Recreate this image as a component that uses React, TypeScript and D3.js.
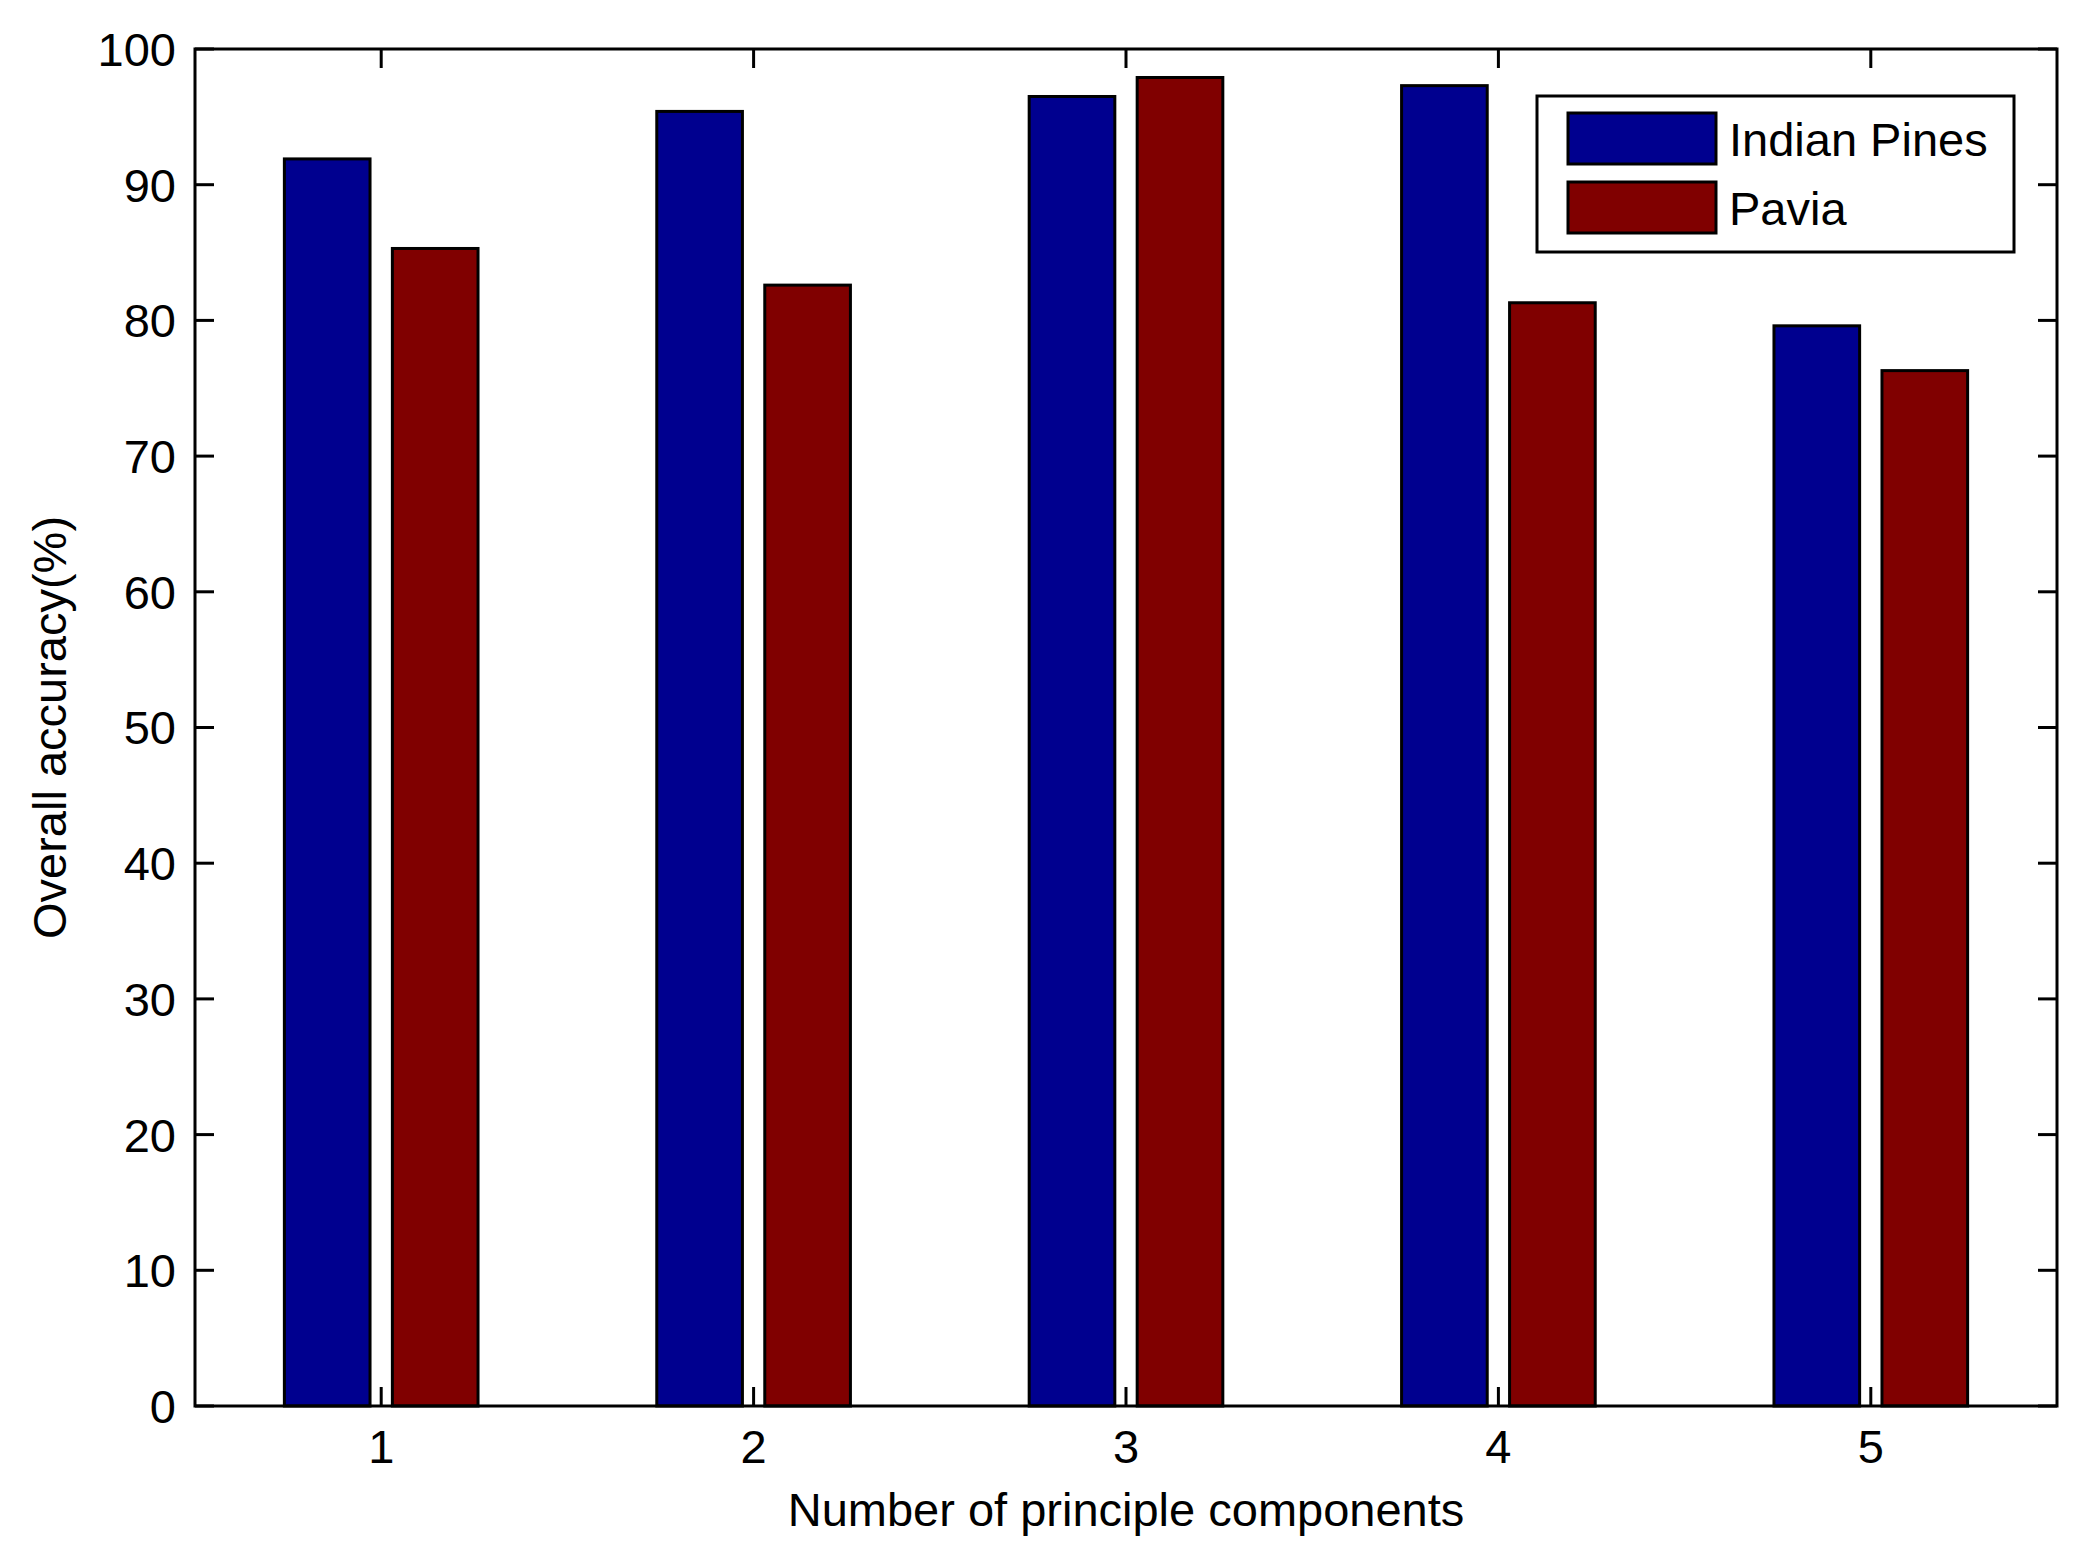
import { useRef, useEffect } from 'react';
import * as d3 from 'd3';

const components = [1, 2, 3, 4, 5];
const indianPines = [91.9, 95.4, 96.5, 97.3, 79.6];
const pavia = [85.3, 82.6, 97.9, 81.3, 76.3];
const seriesNames = ['Indian Pines', 'Pavia'];
const seriesColors = ['#00008f', '#800000'];
const yTicks = [0, 10, 20, 30, 40, 50, 60, 70, 80, 90, 100];

const FONT = '"Liberation Sans", Arial, sans-serif';

export default function App() {
    const svgRef = useRef<SVGSVGElement>(null);

    useEffect(() => {
        if (!svgRef.current) return;
        document.body.style.margin = '0';

        const width = 2078;
        const height = 1556;
        const margin = { top: 49, right: 21, bottom: 150, left: 195 };
        const w = width - margin.left - margin.right;
        const h = height - margin.top - margin.bottom;

        const root = d3.select(svgRef.current);
        root.selectAll('*').remove();
        root.attr('width', width).attr('height', height);

        root.append('rect').attr('width', width).attr('height', height).attr('fill', '#fff');

        const svg = root.append('g').attr('transform', `translate(${margin.left},${margin.top})`);

        const x = d3.scaleLinear().domain([0.5, 5.5]).range([0, w]);
        const y = d3.scaleLinear().domain([0, 100]).range([h, 0]);

        const barW = 0.23;
        const offsets = [-0.145, 0.145];
        const series = [indianPines, pavia];

        // Bars
        series.forEach((vals, s) => {
            svg.selectAll(`.bar-${s}`)
                .data(vals)
                .enter()
                .append('rect')
                .attr('class', `bar-${s}`)
                .attr('x', (_d, i) => x(components[i] + offsets[s] - barW / 2))
                .attr('width', x(barW) - x(0))
                .attr('y', d => y(d))
                .attr('height', d => h - y(d))
                .attr('fill', seriesColors[s])
                .attr('stroke', '#000')
                .attr('stroke-width', 3);
        });

        // Frame
        svg.append('rect')
            .attr('width', w)
            .attr('height', h)
            .attr('fill', 'none')
            .attr('stroke', '#000')
            .attr('stroke-width', 3);

        const tickLen = 19;

        // Y ticks (left + right, inward)
        yTicks.forEach(t => {
            svg.append('line').attr('x1', 0).attr('x2', tickLen).attr('y1', y(t)).attr('y2', y(t))
                .attr('stroke', '#000').attr('stroke-width', 3);
            svg.append('line').attr('x1', w - tickLen).attr('x2', w).attr('y1', y(t)).attr('y2', y(t))
                .attr('stroke', '#000').attr('stroke-width', 3);
            svg.append('text')
                .attr('x', -19)
                .attr('y', y(t))
                .attr('dy', '0.36em')
                .attr('text-anchor', 'end')
                .style('font-family', FONT)
                .style('font-size', '47px')
                .text(t);
        });

        // X ticks (bottom + top, inward)
        components.forEach(c => {
            svg.append('line').attr('x1', x(c)).attr('x2', x(c)).attr('y1', h).attr('y2', h - tickLen)
                .attr('stroke', '#000').attr('stroke-width', 3);
            svg.append('line').attr('x1', x(c)).attr('x2', x(c)).attr('y1', 0).attr('y2', tickLen)
                .attr('stroke', '#000').attr('stroke-width', 3);
            svg.append('text')
                .attr('x', x(c))
                .attr('y', h + 57)
                .attr('text-anchor', 'middle')
                .style('font-family', FONT)
                .style('font-size', '47px')
                .text(c);
        });

        // Axis labels
        root.append('text')
            .attr('x', margin.left + w / 2)
            .attr('y', 1526)
            .attr('text-anchor', 'middle')
            .style('font-family', FONT)
            .style('font-size', '47px')
            .text('Number of principle components');

        root.append('text')
            .attr('transform', `translate(66,${margin.top + h / 2}) rotate(-90)`)
            .attr('text-anchor', 'middle')
            .style('font-family', FONT)
            .style('font-size', '47px')
            .text('Overall accuracy(%)');

        // Legend
        const legend = root.append('g');
        legend.append('rect')
            .attr('x', 1537).attr('y', 96).attr('width', 477).attr('height', 156)
            .attr('fill', '#fff').attr('stroke', '#000').attr('stroke-width', 3);
        seriesNames.forEach((name, i) => {
            legend.append('rect')
                .attr('x', 1568).attr('y', 113 + i * 69).attr('width', 148).attr('height', 51)
                .attr('fill', seriesColors[i]).attr('stroke', '#000').attr('stroke-width', 3);
            legend.append('text')
                .attr('x', 1729).attr('y', 139 + i * 69)
                .attr('dy', '0.36em')
                .style('font-family', FONT)
                .style('font-size', '47px')
                .text(name);
        });
    }, []);

    return <svg ref={svgRef}></svg>;
}
